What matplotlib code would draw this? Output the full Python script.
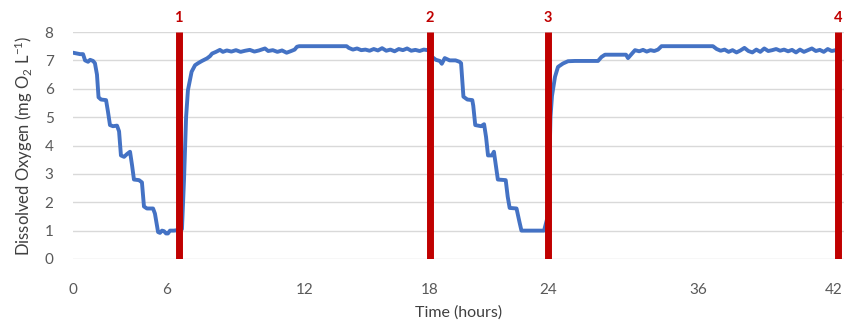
import numpy as np
import matplotlib
matplotlib.use("Agg")
import matplotlib.pyplot as plt
from matplotlib.transforms import ScaledTranslation

# ---------------- data ----------------
time_h = [
    0.00, 0.19, 0.45, 0.64, 0.77, 0.96, 1.09, 1.28, 1.40, 1.53, 1.63, 1.79, 2.11, 2.23,
    2.36, 2.55, 2.81, 2.94, 3.06, 3.26, 3.45, 3.64, 3.77, 3.89, 4.21, 4.40, 4.53, 4.72,
    5.11, 5.23, 5.43, 5.55, 5.68, 5.81, 5.94, 6.04, 6.13, 6.30, 6.48, 6.65, 6.74, 6.83,
    6.91, 7.07, 7.22, 7.35, 7.52, 7.74, 7.87, 7.96, 8.13, 8.30, 8.43, 8.6, 8.8, 9.0,
    9.2, 9.4, 9.6, 9.8, 10.0, 10.26, 10.4, 10.6, 10.8, 11.0, 11.2, 11.4, 11.55, 11.65,
    11.75, 14.0, 14.1, 14.3, 14.5, 14.7, 14.9, 15.1, 15.3, 15.5, 15.7, 15.9, 16.1, 16.3,
    16.5, 16.7, 16.9, 17.1, 17.3, 17.5, 17.7, 17.9, 18.0, 18.05, 18.3, 18.5, 18.6, 18.75,
    19.0, 19.3, 19.5, 19.58, 19.7, 19.9, 20.15, 20.2, 20.3, 20.6, 20.75, 20.85, 20.95,
    21.15, 21.25, 21.35, 21.45, 21.85, 21.95, 22.05, 22.4, 22.55, 22.65, 23.8, 23.95,
    24.08, 24.2, 24.32, 24.56, 24.8, 25.2, 25.6, 26.16, 28.0, 28.28, 28.56, 30.24, 30.4,
    30.64, 30.96, 31.3, 31.6, 31.9, 32.2, 32.5, 32.8, 33.08, 36.64, 36.8, 36.97, 37.14,
    37.31, 37.48, 37.65, 37.82, 37.99, 38.16, 38.33, 38.5, 38.67, 38.84, 39.01, 39.18,
    39.35, 39.52, 39.69, 39.86, 40.03, 40.2, 40.37, 40.54, 40.71, 40.88, 41.05, 41.22,
    41.39, 41.56, 41.73, 41.9, 42.0,
]
dissolved_o2 = [
    7.27, 7.25, 7.22, 7.22, 7.00, 6.95, 7.02, 6.98, 6.90, 6.50, 5.70, 5.62, 5.60, 5.20,
    4.72, 4.68, 4.70, 4.50, 3.65, 3.60, 3.70, 3.78, 3.30, 2.80, 2.78, 2.70, 1.85, 1.78,
    1.78, 1.60, 0.95, 0.92, 1.00, 0.98, 0.90, 0.90, 1.00, 1.00, 1.02, 1.05, 2.80, 5.00,
    5.95, 6.60, 6.83, 6.90, 6.98, 7.07, 7.15, 7.24, 7.30, 7.37, 7.30, 7.35, 7.31, 7.36,
    7.30, 7.34, 7.37, 7.31, 7.35, 7.42, 7.33, 7.36, 7.30, 7.35, 7.27, 7.33, 7.38, 7.48,
    7.50, 7.50, 7.44, 7.38, 7.42, 7.36, 7.38, 7.34, 7.40, 7.35, 7.43, 7.34, 7.38, 7.32,
    7.40, 7.36, 7.42, 7.34, 7.37, 7.33, 7.38, 7.36, 7.30, 7.15, 7.02, 6.98, 6.88, 7.08,
    7.00, 7.00, 6.95, 6.90, 5.72, 5.62, 5.60, 5.40, 4.72, 4.68, 4.75, 4.30, 3.65,
    3.65, 3.78, 3.30, 2.80, 2.78, 2.20, 1.80, 1.78, 1.30, 1.00, 1.00, 1.40,
    2.80, 5.00, 5.75, 6.42, 6.77, 6.89, 6.97, 6.98, 6.98, 7.12, 7.20, 7.20, 7.08,
    7.20, 7.36, 7.32, 7.37, 7.31, 7.36, 7.33, 7.38, 7.50, 7.50, 7.40, 7.34, 7.38,
    7.30, 7.36, 7.28, 7.35, 7.44, 7.33, 7.28, 7.38, 7.30, 7.42, 7.33, 7.36,
    7.40, 7.34, 7.38, 7.32, 7.37, 7.28, 7.38, 7.30, 7.36, 7.42, 7.33, 7.37,
    7.30, 7.40, 7.33, 7.36, 7.35,
]
event_hours = [6.5, 18, 24, 42]
event_labels = ["1", "2", "3", "4"]
x_tick_values = [0, 6, 12, 18, 24, 36, 42]
y_tick_values = [0, 1, 2, 3, 4, 5, 6, 7, 8]

# ---------------- layout (non-uniform hour axis as in the original) ----------------
ANCHOR_H = np.array([-6, 0, 6, 12, 18, 24, 36, 42, 48], dtype=float)
ANCHOR_P = np.array([-21, 73, 167, 305, 430, 548, 698, 838, 978], dtype=float)

def fwd(h):
    return np.interp(np.asarray(h, dtype=float), ANCHOR_H, ANCHOR_P)

def inv(p):
    return np.interp(np.asarray(p, dtype=float), ANCHOR_P, ANCHOR_H)

font = "Lato"
plt.rcParams["mathtext.fontset"] = "custom"
plt.rcParams["mathtext.rm"] = font
plt.rcParams["mathtext.it"] = font
plt.rcParams["mathtext.bf"] = font + ":bold"

W, H = 845, 326
fig = plt.figure(figsize=(W / 100, H / 100), dpi=100)
left, right, bottom, top = 73, 845, 259, 32
ax = fig.add_axes([left / W, 1 - bottom / H, (right - left) / W, (bottom - top) / H])
ax.set_xscale("function", functions=(fwd, inv))

grey = "#595959"

ax.plot(time_h, dissolved_o2, color="#4472C4", lw=2.8, solid_joinstyle="round",
        solid_capstyle="round", zorder=3)
ax.vlines(event_hours, 0, 8, color="#C00000", lw=5.0, zorder=4)
for xh, lab in zip(event_hours, event_labels):
    ax.text(xh, 8.5, lab, color="#C00000", fontweight="bold", fontsize=10.5,
            ha="center", va="center", family=font, clip_on=False)

ax.set_xlim(0, inv(845))
ax.set_ylim(0, 8)
ax.set_xticks(x_tick_values)
ax.set_xticklabels([str(v) for v in x_tick_values])
ax.set_yticks(y_tick_values)
ax.grid(axis="y", color="#D9D9D9", lw=1.0)
ax.grid(axis="x", visible=False)
ax.set_axisbelow(True)
for s in ax.spines.values():
    s.set_visible(False)
ax.tick_params(axis="both", length=0, labelcolor=grey, labelsize=11)
ax.tick_params(axis="x", pad=17)
ax.tick_params(axis="y", pad=14)
for lab in ax.get_xticklabels() + ax.get_yticklabels():
    lab.set_family(font)

# keep the last x label inside the canvas
last = ax.get_xticklabels()[-1]
last.set_horizontalalignment("right")
last.set_transform(last.get_transform() + ScaledTranslation(5 / 100, 0, fig.dpi_scale_trans))

ax.set_xlabel("Time (hours)", fontsize=11.5, color="#404040", family=font, labelpad=6)
ax.set_ylabel(r"Dissolved Oxygen (mg O$\mathregular{_2}$ L$\mathregular{^{-1}}$)",
              fontsize=12, color="#404040", family=font, labelpad=7)

fig.savefig("out.png", dpi=100)
